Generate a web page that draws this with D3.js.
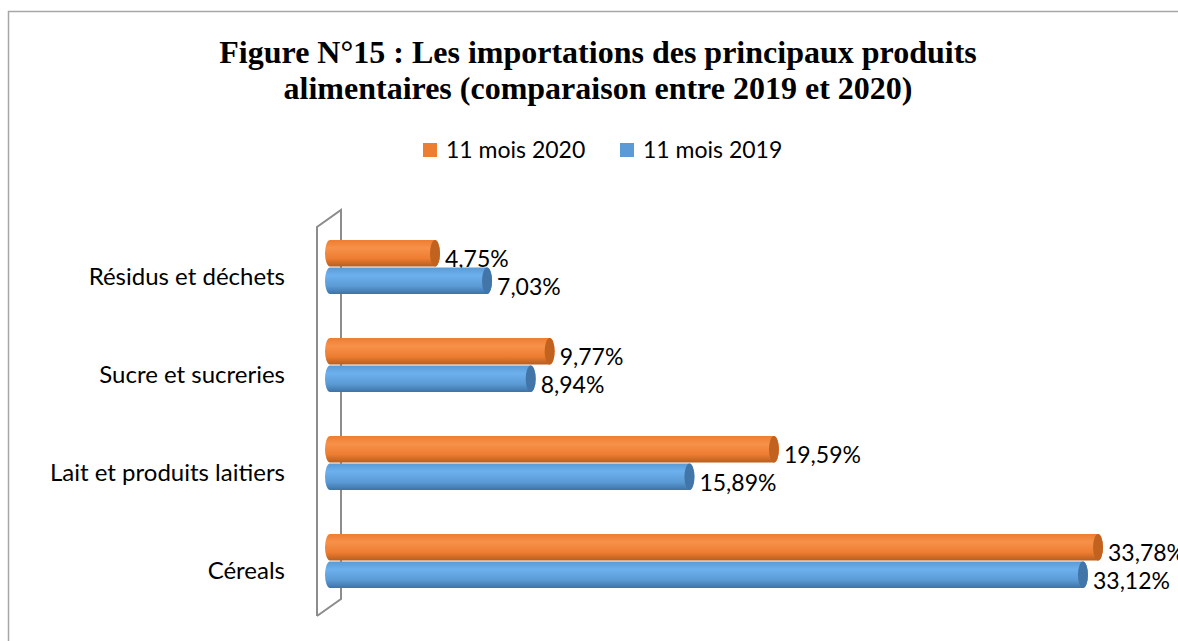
<!DOCTYPE html>
<html>
<head>
<meta charset="utf-8">
<script src="https://cdn.jsdelivr.net/npm/d3@7"></script>
<style>
  body { margin: 0; background: #fff; }
  svg { display: block; }
  .cat { font-family: Lato, sans-serif; font-size: 24px; fill: #000; }
  .val { font-family: Lato, sans-serif; font-size: 23px; fill: #000; }
  .legend text { font-family: Lato, sans-serif; font-size: 23px; fill: #000; }
  .title { font-family: "Liberation Serif", "Times New Roman", serif; font-weight: bold; font-size: 32px; fill: #000; }
</style>
</head>
<body>
<svg id="chart" width="1178" height="641"></svg>
<script>
// data
const categories = ["Résidus et déchets", "Sucre et sucreries", "Lait et produits laitiers", "Céreals"];
const series = ["11 mois 2020", "11 mois 2019"];
const values2020 = [4.75, 9.77, 19.59, 33.78];
const values2019 = [7.03, 8.94, 15.89, 33.12];
const titleLines = [
  "Figure N°15 : Les importations des principaux produits",
  "alimentaires (comparaison entre 2019 et 2020)"
];

const colors = {
  "11 mois 2020": { base: "#ED7D31", light: "#F7914A", dark: "#B85E1F", cap: "#C2621F" },
  "11 mois 2019": { base: "#5B9BD5", light: "#6CB0EE", dark: "#3E73A6", cap: "#4275A8" }
};

const svg = d3.select("#chart");
const defs = svg.append("defs");

// gradients for the cylinder look
series.forEach((s, i) => {
  const c = colors[s];
  const g = defs.append("linearGradient")
    .attr("id", "grad" + i)
    .attr("x1", 0).attr("y1", 0).attr("x2", 0).attr("y2", 1);
  g.append("stop").attr("offset", "0%").attr("stop-color", c.base);
  g.append("stop").attr("offset", "30%").attr("stop-color", c.light);
  g.append("stop").attr("offset", "70%").attr("stop-color", c.base);
  g.append("stop").attr("offset", "100%").attr("stop-color", c.dark);
});

// outer frame
svg.append("rect")
  .attr("x", 8.5).attr("y", 11.5)
  .attr("width", 1200).attr("height", 700)
  .attr("fill", "none")
  .attr("stroke", "#a6a6a6")
  .attr("stroke-width", 1.5);

// title
svg.selectAll(".title")
  .data(titleLines)
  .enter()
  .append("text")
  .attr("class", "title")
  .attr("x", 598)
  .attr("y", (d, i) => 63 + i * 36)
  .attr("text-anchor", "middle")
  .text((d) => d);

// scales
const x = d3.scaleLinear().domain([0, 35]).range([331.5, 331.5 + 35 * 22.84]);
const y = d3.scaleBand().domain(categories).range([218, 610]);
const ySub = d3.scaleBand().domain(series).range([0, y.bandwidth()])
  .paddingInner(0.04).paddingOuter(0.8);

// 3D wall (left side)
const wallX = 317, depthX = 24, depthY = -17;
const wallTop = 227, wallBottom = 616;
svg.append("path")
  .attr("d", `M${wallX},${wallBottom} L${wallX},${wallTop} L${wallX + depthX},${wallTop + depthY} L${wallX + depthX},${wallBottom + depthY} L${wallX},${wallBottom}`)
  .attr("fill", "none")
  .attr("stroke", "#8c8c8c")
  .attr("stroke-width", 2);

// category labels
svg.selectAll(".cat")
  .data(categories)
  .enter()
  .append("text")
  .attr("class", "cat")
  .attr("x", 285)
  .attr("y", (d) => y(d) + y.bandwidth() / 2 + 10)
  .attr("dy", "0.35em")
  .attr("text-anchor", "end")
  .text((d) => d);

// bars as cylinders
const rows = [];
categories.forEach((c, i) => {
  rows.push({ cat: c, s: series[0], v: values2020[i], si: 0 });
  rows.push({ cat: c, s: series[1], v: values2019[i], si: 1 });
});

const capRx = 5;
const x0 = 325;
const bar = svg.selectAll(".bar")
  .data(rows)
  .enter()
  .append("g")
  .attr("class", "bar")
  .attr("transform", (d) => `translate(0,${y(d.cat) + ySub(d.s)})`);

bar.append("path")
  .attr("d", (d) => {
    const h = ySub.bandwidth();
    const r = h / 2;
    const xe = x(d.v) - capRx;
    return `M${x0 + capRx},0 L${xe},0 A${capRx},${r} 0 0 1 ${xe},${h} L${x0 + capRx},${h} A${capRx},${r} 0 0 1 ${x0 + capRx},0 Z`;
  })
  .attr("fill", (d) => `url(#grad${d.si})`);

bar.append("ellipse")
  .attr("cx", (d) => x(d.v) - capRx)
  .attr("cy", ySub.bandwidth() / 2)
  .attr("rx", capRx)
  .attr("ry", ySub.bandwidth() / 2)
  .attr("fill", (d) => colors[d.s].cap);

// value labels
bar.append("text")
  .attr("class", "val")
  .attr("x", (d) => x(d.v) + 5)
  .attr("y", ySub.bandwidth() / 2 + 6)
  .attr("dy", "0.35em")
  .text((d) => d.v.toFixed(2).replace(".", ",") + "%");

// legend
const legendX = [423, 620];
const legend = svg.append("g").attr("class", "legend");
series.forEach((s, i) => {
  legend.append("rect")
    .attr("x", legendX[i]).attr("y", 143)
    .attr("width", 14).attr("height", 14)
    .attr("fill", colors[s].base);
  legend.append("text")
    .attr("x", legendX[i] + 23)
    .attr("y", 150)
    .attr("dy", "0.35em")
    .text(s);
});
</script>
</body>
</html>
